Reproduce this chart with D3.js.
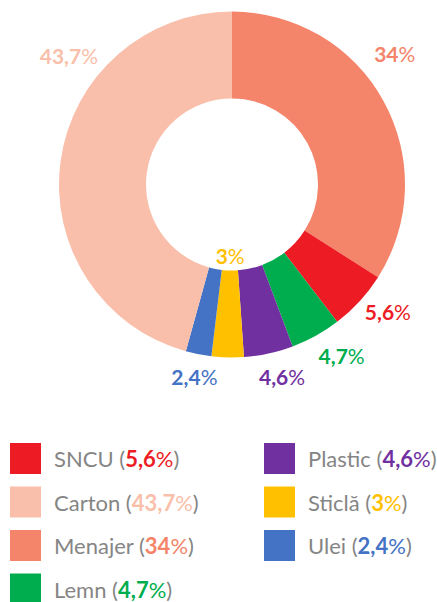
<!DOCTYPE html>
<html>
<head>
<meta charset="utf-8">
<script src="https://cdn.jsdelivr.net/npm/d3@7"></script>
<style>
  body { margin: 0; background: #fff; }
  text { font-family: Lato, "Open Sans", sans-serif; }
</style>
</head>
<body>
<div id="chart"></div>
<script>
// slices clockwise from 12 o'clock
var names  = ["Menajer", "SNCU", "Lemn", "Plastic", "Sticlă", "Ulei", "Carton"];
var shares = [34, 5.6, 4.7, 4.6, 3, 2.4, 45.7];          // slice sizes as drawn
var labels = ["34", "5,6", "4,7", "4,6", "3", "2,4", "43,7"]; // printed values
var colors = ["#F4846A", "#ED1C24", "#00AD4E", "#7030A0", "#FFC000", "#4472C4", "#F9BFAA"];
// legend order
var legendOrder = ["SNCU", "Carton", "Menajer", "Lemn", "Plastic", "Sticlă", "Ulei"];

var w = 437, h = 602;
var cx = 232, cy = 184.5;
var rOut = 173, rIn = 86;

var svg = d3.select("#chart").append("svg")
	.attr("width", w)
	.attr("height", h);

var data = names.map(function(n, i) {
	return {name: n, value: shares[i], label: labels[i], color: colors[i]};
});

var pie = d3.pie().sort(null).value(function(d) { return d.value; });
var arc = d3.arc().innerRadius(rIn).outerRadius(rOut);

var g = svg.append("g").attr("transform", "translate(" + cx + "," + cy + ")");
var arcs = pie(data);

g.selectAll("path")
	.data(arcs)
	.enter()
	.append("path")
	.attr("d", arc)
	.attr("fill", function(d) { return d.data.color; });

// label placement tweaks (angle in degrees from top, radius)
var labelTweak = {
	"Menajer": {a: 51.5, r: 208},
	"Carton":  {a: -52, r: 207},
	"Sticlă":  {r: 73},
	"SNCU":    {a: 129.5, r: 202},
	"Lemn":    {a: 147.5, r: 204},
	"Plastic": {a: 165.5, r: 200},
	"Ulei":    {a: 191, r: 197}
};

var lbl = g.selectAll(".lbl")
	.data(arcs)
	.enter()
	.append("text")
	.attr("class", "lbl")
	.attr("text-anchor", "middle")
	.attr("font-size", 21)
	.attr("fill", function(d) { return d.data.color; })
	.attr("transform", function(d) {
		var t = labelTweak[d.data.name] || {};
		var a = t.a != null ? t.a * Math.PI / 180 : (d.startAngle + d.endAngle) / 2;
		var r = t.r || 203;
		return "translate(" + (r * Math.sin(a)) + "," + (-r * Math.cos(a) + 7) + ")";
	});
lbl.append("tspan").attr("font-weight", 700).text(function(d) { return d.data.label; });
lbl.append("tspan").attr("font-weight", 400).text("%");

// legend
var leg = svg.append("g").attr("class", "legend");
var rowH = 43.5;
var items = legendOrder.map(function(n, i) {
	var d = data[names.indexOf(n)];
	var col = i < 4 ? 0 : 1;
	var row = i < 4 ? i : i - 4;
	return {d: d, x: col ? 264 : 10, y: 443 + row * rowH};
});

var li = leg.selectAll("g")
	.data(items)
	.enter()
	.append("g")
	.attr("transform", function(it) { return "translate(" + it.x + "," + it.y + ")"; });

li.append("rect")
	.attr("width", 31)
	.attr("height", 31)
	.attr("fill", function(it) { return it.d.color; });

var lt = li.append("text")
	.attr("x", 44)
	.attr("y", 24)
	.attr("font-size", 22)
	.attr("fill", "#858585");
lt.append("tspan").text(function(it) { return it.d.name + " ("; });
lt.append("tspan").attr("font-weight", 700).attr("fill", function(it) { return it.d.color; })
	.text(function(it) { return it.d.label; });
lt.append("tspan").attr("fill", function(it) { return it.d.color; }).text("%");
lt.append("tspan").text(")");
</script>
</body>
</html>
